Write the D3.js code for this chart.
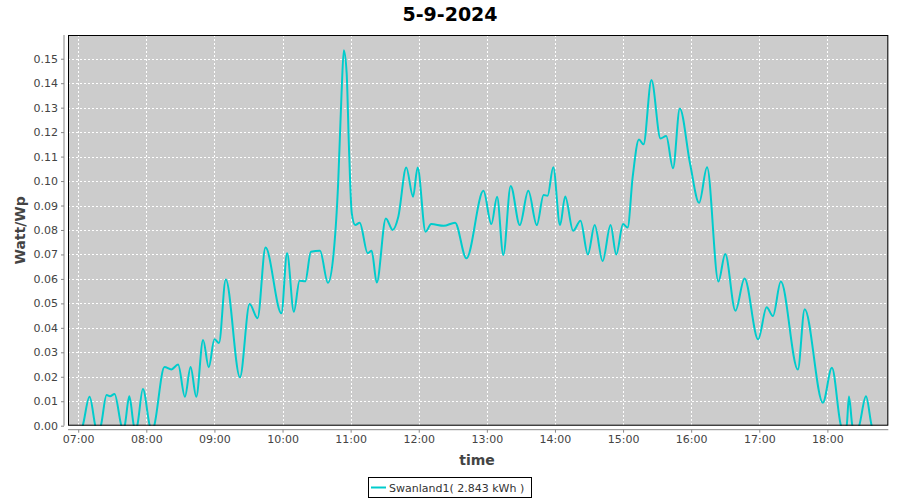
<!DOCTYPE html>
<html>
<head>
<meta charset="utf-8">
<script src="https://cdn.jsdelivr.net/npm/d3@7"></script>
<style>
  html, body { margin: 0; padding: 0; background: #fff; }
  svg { display: block; }
</style>
</head>
<body>
<svg id="chart" width="900" height="500"></svg>
<script>
const chartTitle = "5-9-2024";
const seriesName = "Swanland1( 2.843 kWh )";
const xLabel = "time";
const yLabel = "Watt/Wp";

const times = [
  "07:02:00","07:04:00","07:10:00","07:15:00","07:17:00","07:20:00","07:25:00","07:28:00","07:32:00","07:38:00",
  "07:39:30","07:41:00","07:45:00","07:49:00","07:50:30","07:52:00","07:57:00","08:03:00","08:05:00","08:07:00",
  "08:16:00","08:22:00","08:28:00","08:34:00","08:39:00","08:44:00","08:50:00","08:55:00","09:00:00","09:04:00",
  "09:10:00","09:22:30","09:31:00","09:38:00","09:45:00","09:59:00","10:04:00","10:10:00","10:15:00","10:20:00",
  "10:25:00","10:33:00","10:40:00","10:45:00","10:49:00","10:52:00","10:54:00","10:56:30","10:58:30","11:01:00",
  "11:04:00","11:08:00","11:15:00","11:18:30","11:23:00","11:31:00","11:37:00","11:42:00","11:49:00","11:55:00",
  "11:59:00","12:06:00","12:11:00","12:22:00","12:32:00","12:42:00","12:57:00","13:04:00","13:09:00","13:14:30",
  "13:21:00","13:29:00","13:36:30","13:44:00","13:50:00","13:53:30","13:58:30","14:04:30","14:09:00","14:16:00",
  "14:22:30","14:29:00","14:35:00","14:42:00","14:49:00","14:54:00","15:00:00","15:04:00","15:08:30","15:14:00",
  "15:18:00","15:25:00","15:33:00","15:38:00","15:44:00","15:50:00","15:59:00","16:07:00","16:14:00","16:24:00",
  "16:30:00","16:39:00","16:47:00","16:59:00","17:06:30","17:12:00","17:19:00","17:34:00","17:40:00","17:56:00",
  "18:04:00","18:12:00","18:14:30","18:17:00","18:19:00","18:22:00","18:25:00","18:28:00","18:34:00","18:39:00",
  "18:41:00"
];
const values = [
  -0.003,0.000,0.0118,0.000,-0.004,0.000,0.0125,0.0120,0.0130,0.000,
  -0.002,0.000,0.0120,0.000,-0.002,0.000,0.0150,0.000,-0.003,0.000,
  0.0240,0.0230,0.0250,0.0118,0.0240,0.0118,0.0350,0.0239,0.0353,0.0338,
  0.0598,0.0198,0.0497,0.0439,0.0728,0.0460,0.0705,0.0466,0.0593,0.0590,
  0.0711,0.0715,0.0584,0.0705,0.0990,0.1360,0.1535,0.1440,0.1140,0.0868,
  0.0820,0.0830,0.0705,0.0715,0.0585,0.0847,0.0800,0.0854,0.1055,0.0936,
  0.1055,0.0793,0.0824,0.0817,0.0830,0.0684,0.0960,0.0824,0.0936,0.0698,
  0.0980,0.0820,0.0960,0.0820,0.0943,0.0940,0.1056,0.0820,0.0937,0.0797,
  0.0838,0.0700,0.0820,0.0673,0.0820,0.0700,0.0824,0.0810,0.1018,0.1170,
  0.1150,0.1413,0.1174,0.1184,0.1052,0.1297,0.1072,0.0911,0.1056,0.0589,
  0.0702,0.0470,0.0602,0.0353,0.0484,0.0448,0.0589,0.0230,0.0476,0.0094,
  0.0237,0.000,-0.002,0.000,0.0119,0.000,-0.003,0.000,0.0120,0.000,
  -0.003
];
const yTicks = [0,0.01,0.02,0.03,0.04,0.05,0.06,0.07,0.08,0.09,0.10,0.11,0.12,0.13,0.14,0.15];
const xTickLabels = ["07:00","08:00","09:00","10:00","11:00","12:00","13:00","14:00","15:00","16:00","17:00","18:00"];
const xDomain = ["06:51:00","18:53:40"];
const yDomain = [0, 0.1597];

const parse = d3.timeParse("%Y-%m-%d %H:%M:%S");
const day = "2024-09-05 ";
const data = times.map((t, i) => ({ t: parse(day + t), v: values[i] }));
const parseTick = d3.timeParse("%Y-%m-%d %H:%M");

const svg = d3.select("#chart");
const L = 68, R = 888.3, T = 35, B = 425.7;

const x = d3.scaleTime().domain(xDomain.map(s => parse(day + s))).range([L, R]);
const y = d3.scaleLinear().domain(yDomain).range([B, T]);

// plot background
svg.append("rect").attr("x", L).attr("y", T).attr("width", R - L).attr("height", B - T).attr("fill", "#cccccc");

const tickDates = xTickLabels.map(s => parseTick(day + s));

// gridlines
const grid = svg.append("g").attr("stroke", "#ffffff").attr("stroke-width", 1).attr("stroke-dasharray", "2,2");
grid.selectAll("line.v").data(tickDates).join("line")
  .attr("x1", d => Math.round(x(d)) + 0.5).attr("x2", d => Math.round(x(d)) + 0.5)
  .attr("y1", T).attr("y2", B);
grid.selectAll("line.h").data(yTicks.slice(1)).join("line")
  .attr("x1", L).attr("x2", R)
  .attr("y1", d => Math.round(y(d)) + 0.5).attr("y2", d => Math.round(y(d)) + 0.5);

// clip
svg.append("clipPath").attr("id", "clip").append("rect")
  .attr("x", L).attr("y", T).attr("width", R - L).attr("height", B - T);

const line = d3.line().x(d => x(d.t)).y(d => y(d.v)).curve(d3.curveMonotoneX);
svg.append("path").datum(data).attr("clip-path", "url(#clip)")
  .attr("fill", "none").attr("stroke", "#00cccc").attr("stroke-width", 2)
  .attr("stroke-linejoin", "round").attr("d", line);

// plot border
svg.append("rect").attr("x", L + 0.5).attr("y", T + 0.5).attr("width", R - L - 1).attr("height", B - T - 1)
  .attr("fill", "none").attr("stroke", "#000").attr("stroke-width", 1);

// axes
const fontFam = "'DejaVu Sans', sans-serif";
const yAxisG = svg.append("g").attr("transform", `translate(${L - 4},0)`)
  .call(d3.axisLeft(y).tickValues(yTicks).tickFormat(d3.format(".2f")).tickSize(3).tickPadding(3));
const xAxisG = svg.append("g").attr("transform", `translate(0,${B + 4})`)
  .call(d3.axisBottom(x).tickValues(tickDates).tickFormat(d3.timeFormat("%H:%M")).tickSize(3).tickPadding(3));
[yAxisG, xAxisG].forEach(g => {
  g.select(".domain").attr("stroke", "#888888");
  g.selectAll(".tick line").attr("stroke", "#888888");
  g.selectAll(".tick text").attr("fill", "#444444").style("font-family", fontFam).style("font-size", "11px");
});
yAxisG.select(".domain").attr("d", `M0,${T}V${B}`);
xAxisG.select(".domain").attr("d", `M${L},0H${R}`);

// title
svg.append("text").attr("x", 450).attr("y", 21).attr("text-anchor", "middle")
  .style("font-family", fontFam).style("font-weight", "bold").style("font-size", "19px")
  .attr("fill", "#000").text(chartTitle);

// axis labels
svg.append("text").attr("x", 477).attr("y", 465).attr("text-anchor", "middle")
  .style("font-family", fontFam).style("font-weight", "bold").style("font-size", "14px")
  .attr("fill", "#444444").text(xLabel);
svg.append("text").attr("transform", `translate(25,${(T + B) / 2}) rotate(-90)`).attr("text-anchor", "middle")
  .style("font-family", fontFam).style("font-weight", "bold").style("font-size", "14px")
  .attr("fill", "#444444").text(yLabel);

// legend
const lg = svg.append("g");
lg.append("rect").attr("x", 368.5).attr("y", 477.5).attr("width", 163).attr("height", 20)
  .attr("fill", "#fff").attr("stroke", "#000").attr("stroke-width", 1);
lg.append("line").attr("x1", 371).attr("x2", 386).attr("y1", 487.5).attr("y2", 487.5)
  .attr("stroke", "#00cccc").attr("stroke-width", 2);
lg.append("text").attr("x", 389).attr("y", 491.5).style("font-family", fontFam).style("font-size", "11px")
  .attr("fill", "#333333").text(seriesName);
</script>
</body>
</html>
